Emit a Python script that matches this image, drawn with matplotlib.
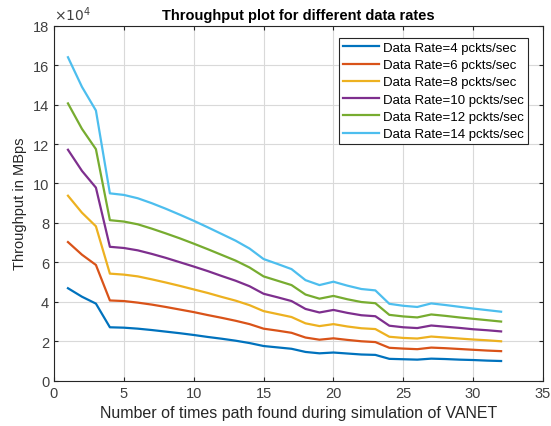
import numpy as np
from matplotlib import pyplot as plt
from matplotlib.ticker import FuncFormatter

plt.rcParams['font.family'] = ['Liberation Sans', 'DejaVu Sans']

# number of times path found
x = np.arange(1, 33)

# throughput values (x 1e4 MBps)
rate4 = [4.69, 4.26, 3.91, 2.71, 2.69, 2.64, 2.57, 2.49, 2.41, 2.32, 2.22, 2.13, 2.03, 1.91, 1.76, 1.69,
         1.62, 1.46, 1.39, 1.43, 1.38, 1.33, 1.31, 1.11, 1.09, 1.07, 1.12, 1.10, 1.07, 1.05, 1.02, 1.00]
rate6 = [7.03, 6.39, 5.87, 4.07, 4.04, 3.96, 3.86, 3.74, 3.61, 3.48, 3.33, 3.19, 3.04, 2.87, 2.64, 2.54,
         2.43, 2.19, 2.08, 2.15, 2.07, 2.00, 1.96, 1.67, 1.63, 1.60, 1.68, 1.65, 1.61, 1.57, 1.53, 1.50]
rate8 = [9.38, 8.52, 7.83, 5.43, 5.38, 5.29, 5.14, 4.98, 4.81, 4.63, 4.45, 4.25, 4.06, 3.83, 3.53, 3.38,
         3.23, 2.91, 2.77, 2.87, 2.75, 2.66, 2.62, 2.23, 2.17, 2.14, 2.24, 2.19, 2.14, 2.09, 2.05, 2.00]
rate10 = [11.71, 10.64, 9.79, 6.79, 6.73, 6.61, 6.43, 6.23, 6.01, 5.79, 5.56, 5.31, 5.07, 4.79, 4.41, 4.23,
          4.04, 3.64, 3.46, 3.59, 3.44, 3.32, 3.27, 2.79, 2.71, 2.67, 2.80, 2.74, 2.68, 2.61, 2.56, 2.50]
rate12 = [14.06, 12.77, 11.74, 8.14, 8.07, 7.93, 7.71, 7.47, 7.22, 6.95, 6.67, 6.38, 6.09, 5.74, 5.29, 5.07,
          4.85, 4.37, 4.16, 4.30, 4.13, 3.99, 3.93, 3.34, 3.26, 3.21, 3.36, 3.29, 3.21, 3.14, 3.07, 3.00]
rate14 = [16.40, 14.90, 13.70, 9.50, 9.42, 9.25, 9.00, 8.72, 8.42, 8.11, 7.78, 7.44, 7.10, 6.70, 6.17, 5.92,
          5.66, 5.10, 4.85, 5.02, 4.82, 4.65, 4.58, 3.90, 3.80, 3.74, 3.92, 3.84, 3.75, 3.66, 3.58, 3.50]

series = [rate4, rate6, rate8, rate10, rate12, rate14]
labels = ['Data Rate=4 pckts/sec', 'Data Rate=6 pckts/sec', 'Data Rate=8 pckts/sec',
          'Data Rate=10 pckts/sec', 'Data Rate=12 pckts/sec', 'Data Rate=14 pckts/sec']
colors = ['#0072BD', '#D95319', '#EDB120', '#7E2F8E', '#77AC30', '#4DBEEE']

fig = plt.figure(figsize=(5.51, 4.27), dpi=100)
ax = fig.add_axes([0.098, 0.106, 0.8875, 0.8315])

for ys, lab, c in zip(series, labels, colors):
    ax.plot(x, np.array(ys) * 1e4, color=c, lw=1.6, label=lab)

ax.set_xlim(0, 35)
ax.set_ylim(0, 18e4)
ax.set_xticks(np.arange(0, 36, 5))
ax.set_yticks(np.arange(0, 18.1e4, 2e4))
ax.yaxis.set_major_formatter(FuncFormatter(lambda v, p: f'{v / 1e4:g}'))
ax.text(0.0, 1.008, r'$\times10^4$', transform=ax.transAxes, fontsize=10,
        color='#404040', va='bottom', ha='left')

ax.grid(True, color='#d9d9d9', lw=0.8)
ax.set_axisbelow(True)
ax.tick_params(direction='in', top=True, right=True, labelsize=10.5,
               colors='#262626', labelcolor='#404040', length=3)
for sp in ax.spines.values():
    sp.set_color('#262626')
    sp.set_linewidth(0.8)

ax.set_title('Throughput plot for different data rates', fontsize=10.5,
             fontweight='bold', pad=5)
ax.set_xlabel('Number of times path found during simulation of VANET', fontsize=11.5,
              color='#262626', labelpad=4)
ax.set_ylabel('Throughput in MBps', fontsize=10.5, color='#262626', labelpad=4)

leg = ax.legend(loc='upper right', bbox_to_anchor=(0.969, 0.966), fontsize=9.5,
                fancybox=False, framealpha=1, edgecolor='#262626',
                handlelength=2.7, handletextpad=0.3, labelspacing=0.38,
                borderpad=0.3, borderaxespad=0)
leg.get_frame().set_linewidth(0.8)

fig.savefig('out.png', dpi=100)
